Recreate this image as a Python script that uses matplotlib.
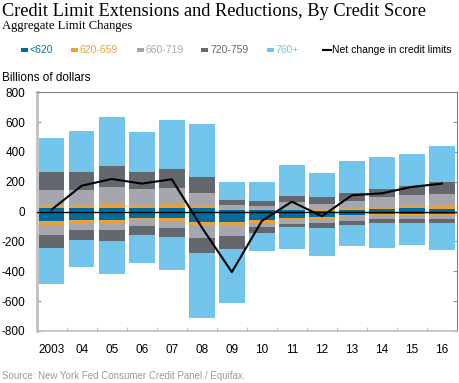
import numpy as np
import matplotlib
matplotlib.use('Agg')
import matplotlib.pyplot as plt
from matplotlib.patches import Rectangle
from matplotlib.lines import Line2D

years = ['2003', '04', '05', '06', '07', '08', '09', '10', '11', '12', '13', '14', '15', '16']
groups = ['<620', '620-659', '660-719', '720-759', '760+']

# extensions (positive), billions of dollars
lt620_pos = [22, 22, 22, 22, 27, 22, 13, 11, 11, 7, 13, 18, 22, 18]
s620_pos = [25, 25, 27, 25, 27, 18, 7, 7, 7, 6, 12, 11, 18, 22]
s660_pos = [100, 96, 117, 105, 102, 85, 27, 22, 44, 39, 44, 70, 69, 79]
s720_pos = [120, 125, 138, 114, 130, 108, 33, 34, 45, 44, 56, 53, 65, 82]
s760_pos = [230, 275, 329, 266, 325, 353, 121, 123, 208, 164, 213, 215, 215, 242]

# reductions (negative)
lt620_neg = [-65, -56, -56, -40, -45, -72, -72, -58, -42, -36, -20, -16, -16, -16]
s620_neg = [-27, -18, -18, -16, -20, -27, -25, -16, -10, -12, -11, -11, -11, -11]
s660_neg = [-67, -51, -51, -40, -44, -78, -69, -31, -31, -28, -29, -22, -22, -22]
s720_neg = [-85, -68, -74, -58, -63, -100, -82, -36, -22, -33, -27, -27, -27, -27]
s760_neg = [-239, -178, -217, -193, -222, -436, -365, -125, -145, -186, -146, -168, -150, -184]

net_change = [14, 174, 219, 188, 217, -106, -405, -62, 67, -31, 110, 123, 166, 188]

colors = ['#006c9e', '#e9a23b', '#a6a6ae', '#63686f', '#73c4eb']
text_colors = ['#0a6fa0', '#e9a23b', '#a8a8ae', '#63686f', '#73c4eb']

pos = [lt620_pos, s620_pos, s660_pos, s720_pos, s760_pos]
neg = [lt620_neg, s620_neg, s660_neg, s720_neg, s760_neg]

fig = plt.figure(figsize=(4.6, 3.83), dpi=100)
ax = fig.add_axes([0.0798, 0.1358, 0.9137, 0.6232])

x = np.arange(len(years))
bottom = np.zeros(len(years))
for vals, c in zip(pos, colors):
    ax.bar(x, vals, 0.85, bottom=bottom, color=c, linewidth=0, zorder=2)
    bottom += np.array(vals)
bottom = np.zeros(len(years))
for vals, c in zip(neg, colors):
    ax.bar(x, vals, 0.85, bottom=bottom, color=c, linewidth=0, zorder=2)
    bottom += np.array(vals)

ax.axhline(0, color='black', linewidth=1, zorder=3)
ax.plot(x, net_change, color='black', linewidth=1.5, zorder=4)

ax.set_xlim(-0.5, len(years) - 0.5)
ax.set_ylim(-800, 800)
ax.set_yticks(np.arange(-800, 801, 200))
ax.set_yticklabels([str(v) for v in range(-800, 801, 200)])
ax.set_xticks(x)
ax.set_xticklabels(years)
ax.set_xticks(np.arange(0.5, len(years) - 1, 1), minor=True)
ax.tick_params(axis='x', which='major', length=0, pad=9.5, labelsize=8.5)
ax.tick_params(axis='x', which='minor', direction='in', length=3, color='#b0b0b0')
ax.tick_params(axis='y', direction='in', length=3, color='#909090', right=True,
               labelsize=8.5, pad=8)
for lab in ax.get_xticklabels() + ax.get_yticklabels():
    lab.set_fontfamily('Liberation Sans')

ax.spines['left'].set_color('#c0c0c0')
ax.spines['left'].set_linewidth(2)
ax.spines['bottom'].set_color('#c0c0c0')
ax.spines['bottom'].set_linewidth(1.2)
ax.spines['top'].set_color('#808080')
ax.spines['right'].set_color('#808080')

fig.text(0.004, 0.958, 'Credit Limit Extensions and Reductions, By Credit Score',
         family='Liberation Serif', fontsize=13.2, va='baseline')
fig.text(0.004, 0.925, 'Aggregate Limit Changes', family='Liberation Serif',
         fontsize=9.1, va='baseline')
fig.text(0.004, 0.796, 'Billions of dollars', family='Liberation Sans',
         fontsize=8.5, va='center')
fig.text(0.004, 0.018, 'Source: New York Fed Consumer Credit Panel / Equifax.',
         family='Liberation Sans', fontsize=7, color='#9a9a9a', va='center')

# legend row
W, H = 460.0, 383.0
ly = 1 - 50 / H
starts = [20.7, 71.0, 136.7, 201.0, 266.7]
for sx, g, c, tc in zip(starts, groups, colors, text_colors):
    fig.add_artist(Rectangle((sx / W, ly - 1.6 / H), 7.5 / W, 3.2 / H,
                             transform=fig.transFigure, color=c, linewidth=0))
    fig.text((sx + 9) / W, ly, g, family='Liberation Sans', fontsize=7.5,
             color=tc, va='center')
fig.add_artist(Line2D([322.7 / W, 331 / W], [ly, ly], transform=fig.transFigure,
                      color='black', linewidth=1.5))
fig.text(332.5 / W, ly, 'Net change in credit limits', family='Liberation Sans',
         fontsize=7.5, color='black', va='center')

fig.savefig('out.png', dpi=100)
